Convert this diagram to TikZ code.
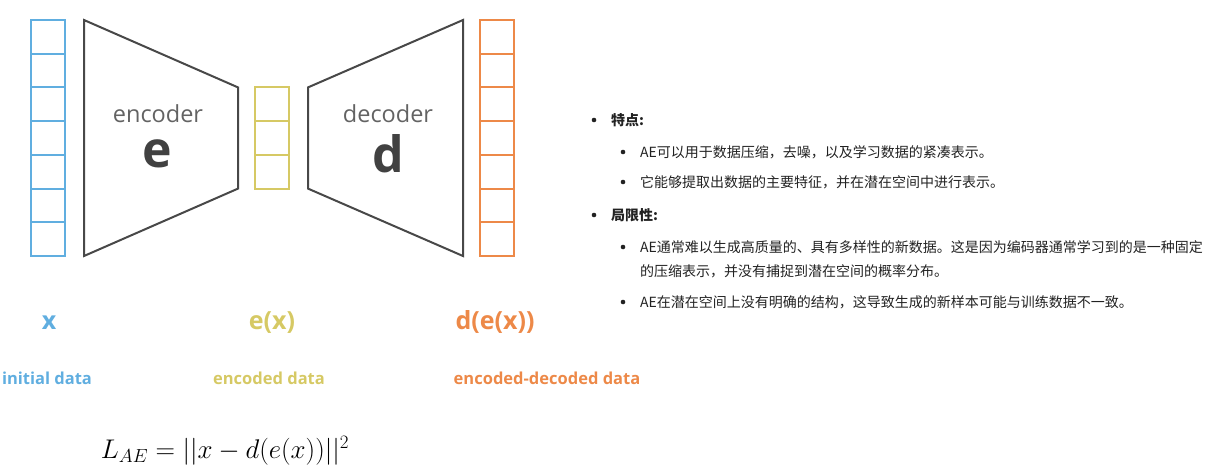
\RequirePackage{fix-cm}
\documentclass[tikz,border=0pt]{standalone}
\usepackage{fontspec}
\setmainfont{Open Sans}
\newfontfamily\cjk{Noto Sans CJK SC}
\usetikzlibrary{calc}
\definecolor{cblue}{RGB}{96,174,224}
\definecolor{cyel}{RGB}{214,201,100}
\definecolor{corg}{RGB}{237,137,72}
\definecolor{cgray}{RGB}{72,72,72}
\definecolor{ctext}{RGB}{34,34,34}
\tikzset{
  cellcol/.style={line width=2pt},
  trap/.style={draw=cgray, line width=2pt, line join=miter},
  partname/.style={text=cgray!85, font=\fontsize{23.5}{28}\selectfont, inner sep=0pt},
  partletter/.style={text=cgray!90!black, font=\fontsize{50}{56}\selectfont\bfseries, inner sep=0pt},
  biglabel/.style={font=\fontsize{25}{30}\selectfont\bfseries, inner sep=0pt},
  smalllabel/.style={font=\fontsize{16.5}{20}\selectfont\bfseries, inner sep=0pt},
  bul/.style={circle, fill=ctext, inner sep=0pt, minimum size=4.6pt},
  txt/.style={anchor=west, inner sep=0pt, text=ctext, font=\fontsize{14}{17}\selectfont\cjk},
}
\begin{document}
\begin{tikzpicture}[x=1pt,y=-1pt]
\useasboundingbox (0,0) rectangle (1217,472);
% columns
\foreach \i in {0,...,6} {
  \draw[cellcol, draw=cblue] (31,{20+33.714*\i}) rectangle (65,{20+33.714*(\i+1)});
  \draw[cellcol, draw=corg] (480,{20+33.714*\i}) rectangle (514,{20+33.714*(\i+1)});
}
\foreach \i in {0,...,2} {
  \draw[cellcol, draw=cyel] (255,{87.43+33.714*\i}) rectangle (289,{87.43+33.714*(\i+1)});
}
% trapezoids
\draw[trap] (84,20) -- (238,87.4) -- (238,188.6) -- (84,256) -- cycle;
\draw[trap] (463,20) -- (308,87.4) -- (308,188.6) -- (463,256) -- cycle;
\node[partname] (enc) at (158,114) {encoder};
\node[partletter] (e) at (157,154) {e};
\node[partname] (dec) at (388,114) {decoder};
\node[partletter] (d) at (388,154) {d};
% labels
\node[biglabel, text=cblue] (lx) at (49,323) {x};
\node[biglabel, text=cyel] (lex) at (272,323) {e(x)};
\node[biglabel, text=corg] (ldex) at (495,322) {d(e(x))};
\node[smalllabel, text=cblue] (li) at (47,378) {initial data};
\node[smalllabel, text=cyel] (le) at (269,378) {encoded data};
\node[smalllabel, text=corg] (led) at (547,378) {encoded-decoded data};
% formula
\node[inner sep=0pt, font=\fontsize{27}{32}\selectfont] (loss) at (225,451) {$L_{AE} = ||x - d(e(x))||^2$};
% right text
\node[bul] (b1) at (594,120) {};
\node[txt] (t1) at (611,120) {\bfseries 特点:};
\node[bul] (b2) at (623,152) {};
\node[txt] (t2) at (640,152) {AE可以用于数据压缩，去噪，以及学习数据的紧凑表示。};
\node[bul] (b3) at (623,182) {};
\node[txt] (t3) at (640,182) {它能够提取出数据的主要特征，并在潜在空间中进行表示。};
\node[bul] (b4) at (594,215) {};
\node[txt] (t4) at (611,215) {\bfseries 局限性:};
\node[bul] (b5) at (623,247) {};
\node[txt] (t5) at (640,247) {AE通常难以生成高质量的、具有多样性的新数据。这是因为编码器通常学习到的是一种固定};
\node[txt] (t5b) at (640,271) {的压缩表示，并没有捕捉到潜在空间的概率分布。};
\node[bul] (b6) at (623,302) {};
\node[txt] (t6) at (640,302) {AE在潜在空间上没有明确的结构，这导致生成的新样本可能与训练数据不一致。};
\end{tikzpicture}
\end{document}
